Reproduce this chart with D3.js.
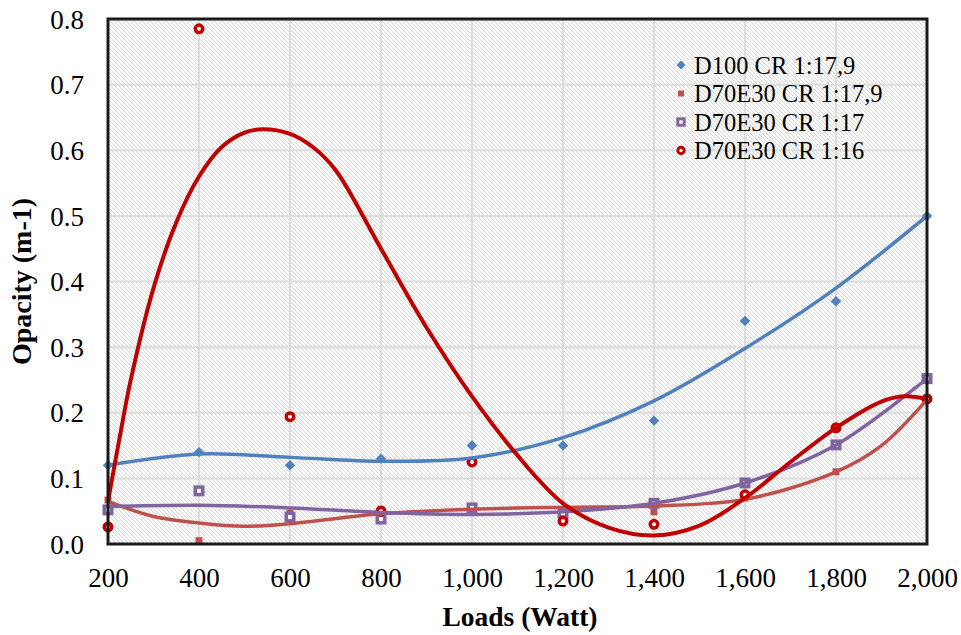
<!DOCTYPE html>
<html>
<head>
<meta charset="utf-8">
<script src="https://cdn.jsdelivr.net/npm/d3@7"></script>
<style>
  body { margin: 0; background: #fff; }
  text { font-family: "Liberation Serif", "Times New Roman", serif; fill: #000; }
</style>
</head>
<body>
<svg id="chart" width="961" height="635"></svg>
<script>
var loads = [200, 400, 600, 800, 1000, 1200, 1400, 1600, 1800, 2000];
var d100_179 = [0.12, 0.14, 0.12, 0.13, 0.15, 0.15, 0.188, 0.34, 0.37, 0.50];
var d70e30_179 = [0.067, 0.005, 0.047, 0.053, 0.055, 0.05, 0.049, 0.07, 0.11, 0.22];
var d70e30_17 = [0.052, 0.081, 0.041, 0.038, 0.055, 0.047, 0.062, 0.093, 0.151, 0.252];
var d70e30_16 = [0.026, 0.785, 0.194, 0.05, 0.125, 0.035, 0.03, 0.075, 0.177, 0.221];
var seriesNames = ["D100 CR 1:17,9", "D70E30 CR 1:17,9", "D70E30 CR 1:17", "D70E30 CR 1:16"];

// trend curves, also
var trendLoadsA = [200, 400, 600, 800, 1000, 1200, 1400, 1600, 1800, 2000];
var trendD100 = [0.12, 0.137, 0.132, 0.126, 0.131, 0.162, 0.218, 0.298, 0.39, 0.50];
var trendD70_17 = [0.057, 0.059, 0.055, 0.048, 0.045, 0.049, 0.062, 0.093, 0.151, 0.252];
var trendLoadsB = [200, 300, 400, 500, 600, 800, 1000, 1200, 1400, 1600, 1800, 1900, 2000];
var trendD70_179 = [0.065, 0.042, 0.032, 0.027, 0.031, 0.046, 0.053, 0.056, 0.058, 0.068, 0.11, 0.15, 0.22];
var trendLoadsC = [200, 225, 250, 300, 350, 400, 450, 500, 540, 600, 650, 700, 800, 900, 1000, 1100, 1200, 1300, 1400, 1500, 1600, 1700, 1800, 1900, 1950, 2000];
var trendD70_16 = [0.065, 0.16, 0.25, 0.39, 0.49, 0.56, 0.605, 0.627, 0.632, 0.625, 0.605, 0.57, 0.45, 0.33, 0.225, 0.135, 0.062, 0.025, 0.013, 0.028, 0.07, 0.125, 0.177, 0.217, 0.225, 0.221];

var yTicks = [0, 0.1, 0.2, 0.3, 0.4, 0.5, 0.6, 0.7, 0.8];
var xTicks = [200, 400, 600, 800, 1000, 1200, 1400, 1600, 1800, 2000];

var margin = { top: 19, right: 34, bottom: 91, left: 108 },
    width = 961 - margin.left - margin.right,
    height = 635 - margin.top - margin.bottom;

var svg = d3.select("#chart");
var defs = svg.append("defs");
var pat = defs.append("pattern")
    .attr("id", "hatch")
    .attr("patternUnits", "userSpaceOnUse")
    .attr("width", 4).attr("height", 4);
pat.append("rect").attr("width", 4).attr("height", 4).attr("fill", "#fff");
pat.append("path")
    .attr("d", "M-1,-1 L5,5 M-1,3 L1,5 M3,-1 L5,1")
    .attr("stroke", "#d6d6d6").attr("stroke-width", 1);

var x = d3.scaleLinear().domain([200, 2000]).range([0, width]);
var y = d3.scaleLinear().domain([0, 0.8]).range([height, 0]);

var g = svg.append("g").attr("transform", "translate(" + margin.left + "," + margin.top + ")");

g.append("rect").attr("width", width).attr("height", height).attr("fill", "url(#hatch)");

// gridlines
g.append("g").selectAll("line").data(yTicks.slice(1, -1)).enter().append("line")
    .attr("x1", 0).attr("x2", width)
    .attr("y1", function (d) { return y(d); }).attr("y2", function (d) { return y(d); })
    .attr("stroke", "#dcdcdc").attr("stroke-width", 2);
g.append("g").selectAll("line").data(xTicks.slice(1, -1)).enter().append("line")
    .attr("y1", 0).attr("y2", height)
    .attr("x1", function (d) { return x(d); }).attr("x2", function (d) { return x(d); })
    .attr("stroke", "#dcdcdc").attr("stroke-width", 2);

var allSeries = [d100_179, d70e30_179, d70e30_17, d70e30_16];
var trends = [
    [trendLoadsA, trendD100],
    [trendLoadsB, trendD70_179],
    [trendLoadsA, trendD70_17],
    [trendLoadsC, trendD70_16]
];
var colors = ["#4f81bd", "#c0504d", "#8064a2", "#c00000"];
var lineW = [3.5, 3.5, 3.5, 4];

var clip = defs.append("clipPath").attr("id", "plotclip");
clip.append("rect").attr("width", width).attr("height", height);

var line = d3.line()
    .x(function (d) { return x(d[0]); })
    .y(function (d) { return y(d[1]); })
    .curve(d3.curveCatmullRom.alpha(0.5));

function drawMarker(sel, i) {
    if (i === 0) {
        sel.append("path").attr("d", d3.symbol().type(d3.symbolDiamond2).size(70)())
            .attr("fill", colors[0]);
    } else if (i === 1) {
        sel.append("rect").attr("x", -3.5).attr("y", -3.5).attr("width", 7).attr("height", 7)
            .attr("fill", colors[1]);
    } else if (i === 2) {
        sel.append("rect").attr("x", -3.75).attr("y", -3.75).attr("width", 7.5).attr("height", 7.5)
            .attr("fill", "#fff").attr("stroke", colors[2]).attr("stroke-width", 3.5);
    } else {
        sel.append("circle").attr("r", 3.75)
            .attr("fill", "#fff").attr("stroke", colors[3]).attr("stroke-width", 3.5);
    }
}

// points first, trend curves over them
allSeries.forEach(function (vals, i) {
    g.append("g").selectAll("g").data(vals).enter().append("g")
        .attr("transform", function (d, k) { return "translate(" + x(loads[k]) + "," + y(d) + ")"; })
        .each(function () { drawMarker(d3.select(this), i); });
});

trends.forEach(function (tr, i) {
    g.append("path")
        .datum(tr[0].map(function (v, k) { return [v, tr[1][k]]; }))
        .attr("clip-path", "url(#plotclip)")
        .attr("fill", "none")
        .attr("stroke", colors[i])
        .attr("stroke-width", lineW[i])
        .attr("stroke-linecap", "round")
        .attr("d", line);
});

// frame
g.append("rect").attr("width", width).attr("height", height)
    .attr("fill", "none").attr("stroke", "#1a1a1a").attr("stroke-width", 3);

// axes
var xAxis = g.append("g").attr("transform", "translate(0," + height + ")")
    .call(d3.axisBottom(x).tickValues(xTicks).tickSize(0).tickPadding(24).tickFormat(d3.format(",")));
var yAxis = g.append("g")
    .call(d3.axisLeft(y).tickValues(yTicks).tickSize(0).tickPadding(24).tickFormat(d3.format(".1f")));
[xAxis, yAxis].forEach(function (a) {
    a.select(".domain").remove();
    a.selectAll("text").attr("font-size", 27).attr("font-family", "Liberation Serif");
});
yAxis.selectAll("text").attr("dy", "0.34em");

svg.append("text")
    .attr("x", 520).attr("y", 626)
    .attr("text-anchor", "middle")
    .attr("font-size", 27.5).attr("font-weight", "bold")
    .text("Loads (Watt)");
svg.append("text")
    .attr("transform", "translate(31," + (margin.top + height / 2) + ") rotate(-90)")
    .attr("text-anchor", "middle")
    .attr("font-size", 28).attr("font-weight", "bold")
    .text("Opacity (m-1)");

// legend
var legend = svg.append("g").attr("transform", "translate(681,65)");
seriesNames.forEach(function (name, i) {
    var row = legend.append("g").attr("transform", "translate(0," + (i * 28.5) + ")");
    drawMarker(row.append("g").attr("transform", "scale(0.85)"), i);
    row.append("text").attr("x", 13).attr("dy", "0.35em")
        .attr("font-size", 24.5).text(name);
});
</script>
</body>
</html>
